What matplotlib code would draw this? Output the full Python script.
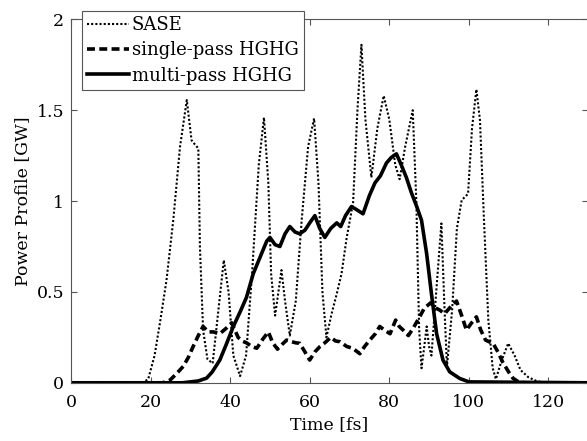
import matplotlib
matplotlib.use("Agg")
import matplotlib.pyplot as plt

# SASE (dotted)
saseT = [0, 18, 19.4, 21, 22.5, 24.0, 25.7, 27.4, 29.1, 30.3, 31.2, 32.0, 32.4, 33.2, 34.3, 35.6,
         36.8, 38.4, 39.6, 40.8, 42.5, 44, 45.5, 47.2, 48.5, 49.6, 50.3, 51.3, 52.9, 53.8, 55.0,
         56.5, 58, 59.6, 61.1, 62.2, 63.2, 64.2, 65.5, 66.8, 68, 69.3, 70.9, 72, 73.0, 74, 75.5,
         77, 78.6, 80, 81.5, 82.6, 84, 85.9, 86.8, 87.5, 88.1, 88.8, 89.4, 90.0, 90.6, 91.8, 93.1,
         93.9, 94.5, 95.8, 97, 98.2, 99.8, 100.8, 101.9, 102.8, 103.8, 104.9, 106.0, 106.8, 108.2,
         109.9, 111.5, 113, 115, 117, 119, 130]
saseP = [0, 0, 0.02, 0.15, 0.35, 0.565, 0.895, 1.30, 1.556, 1.335, 1.31, 1.29, 0.75, 0.29, 0.13, 0.107,
         0.35, 0.675, 0.5, 0.15, 0.037, 0.15, 0.6, 1.2, 1.46, 1.1, 0.6, 0.37, 0.62, 0.45, 0.26,
         0.45, 0.9, 1.3, 1.455, 1.1, 0.5, 0.25, 0.38, 0.49, 0.6, 0.80, 0.99, 1.5, 1.86, 1.45, 1.13,
         1.4, 1.58, 1.45, 1.2, 1.12, 1.3, 1.5, 1.0, 0.3, 0.08, 0.2, 0.31, 0.2, 0.15, 0.5, 0.877,
         0.4, 0.09, 0.4, 0.85, 1.005, 1.04, 1.4, 1.615, 1.445, 0.9, 0.345, 0.08, 0.02, 0.12,
         0.217, 0.15, 0.07, 0.03, 0.01, 0, 0]

# single-pass HGHG (dashed)
singleT = [0, 23, 24.9, 26.5, 28.2, 29.5, 30.7, 32.0, 33.2, 34.5, 35.8, 37.4, 39.0, 40.4, 41.2, 42.0,
           43.0, 44.1, 45.4, 46.7, 48.2, 49.6, 50.7, 51.9, 53.0, 54.2, 55.5, 56.5, 57.5, 58.8, 60.0,
           61.3, 62.6, 63.8, 65.3, 66.5, 67.6, 69.3, 70.8, 72.6, 73.8, 75.1, 76.5, 77.6, 78.8, 80.2,
           81.6, 82.5, 83.5, 84.8, 86.0, 87.3, 88.8, 90.4, 91.8, 92.7, 93.9, 95.5, 96.9, 98.2, 99.4,
           100.7, 101.9, 103, 104.2, 105.2, 106.1, 107.3, 108.6, 110, 111.1, 112.5, 114, 130]
singleP = [0, 0, 0.015, 0.05, 0.09, 0.14, 0.20, 0.26, 0.31, 0.28, 0.28, 0.27, 0.30, 0.33, 0.29, 0.25,
           0.23, 0.22, 0.20, 0.19, 0.24, 0.28, 0.22, 0.185, 0.21, 0.235, 0.226, 0.22, 0.217, 0.17, 0.125,
           0.17, 0.20, 0.22, 0.25, 0.23, 0.226, 0.20, 0.19, 0.16, 0.2, 0.235, 0.27, 0.31, 0.29, 0.27,
           0.345, 0.31, 0.29, 0.26, 0.30, 0.35, 0.41, 0.44, 0.41, 0.40, 0.38, 0.42, 0.45, 0.37, 0.29,
           0.33, 0.363, 0.29, 0.235, 0.225, 0.217, 0.17, 0.11, 0.06, 0.025, 0.005, 0, 0]

# multi-pass HGHG (solid)
multiT = [0, 28, 32, 34.1, 35.5, 37.4, 39, 40.8, 42.5, 44.1, 45.8, 47.5, 49.2, 50, 51.3, 52.5, 53.8,
          55, 56.3, 57.5, 58.8, 60, 61.3, 62.5, 63.8, 65.3, 66.8, 67.8, 69, 70.5, 72, 73.4, 75,
          76.4, 77.8, 79.3, 80.5, 81.8, 83, 84.3, 85.5, 86.9, 88.1, 89.4, 90.6, 91.9, 93.5, 95.2,
          97.7, 100, 130]
multiP = [0, 0, 0.01, 0.026, 0.06, 0.125, 0.21, 0.31, 0.39, 0.47, 0.60, 0.69, 0.78, 0.80, 0.76, 0.75, 0.82,
          0.86, 0.83, 0.82, 0.84, 0.88, 0.92, 0.85, 0.80, 0.85, 0.88, 0.86, 0.92, 0.97, 0.95, 0.93, 1.03,
          1.10, 1.14, 1.21, 1.24, 1.26, 1.20, 1.13, 1.05, 0.97, 0.895, 0.71, 0.49, 0.27, 0.125, 0.06,
          0.024, 0.005, 0]

XTICKS = [0, 20, 40, 60, 80, 100, 120]
YTICKS = [0, 0.5, 1, 1.5, 2]
YTICKLABELS = ["0", "0.5", "1", "1.5", "2"]


def main():
    plt.rcParams["font.family"] = ["DejaVu Serif"]
    fig = plt.figure(figsize=(5.87, 4.41), dpi=100)
    ax = fig.add_axes([0.121, 0.132, 0.881, 0.824])

    ax.plot(saseT, saseP, color="black", linestyle=(0, (1, 1)), linewidth=1.5, label="SASE")
    ax.plot(singleT, singleP, color="black", linestyle=(0, (2.2, 1.2)), linewidth=2.6, label="single-pass HGHG")
    ax.plot(multiT, multiP, color="black", linestyle="-", linewidth=2.6, label="multi-pass HGHG")

    ax.set_xlim(0, 130)
    ax.set_ylim(0, 2)
    ax.set_xticks(XTICKS)
    ax.set_yticks(YTICKS)
    ax.set_yticklabels(YTICKLABELS)
    ax.tick_params(direction="in", top=True, right=True, length=4, width=0.8,
                   color="#555555", labelsize=12.5)
    ax.tick_params(axis="x", pad=8)
    ax.tick_params(axis="y", pad=5)
    for spine in ax.spines.values():
        spine.set_color("#555555")
        spine.set_linewidth(0.8)

    ax.set_xlabel("Time [fs]", fontsize=12.5, labelpad=4)
    ax.set_ylabel("Power Profile [GW]", fontsize=12.5, labelpad=4)

    leg = ax.legend(loc="upper left", bbox_to_anchor=(0.021, 1.024), borderaxespad=0,
                    fontsize=13, fancybox=False, framealpha=1, edgecolor="#555555",
                    handlelength=2.3, handletextpad=0.15, borderpad=0.3, labelspacing=0.4)
    leg.get_frame().set_linewidth(0.8)

    plt.savefig("out.png", dpi=100)


if __name__ == "__main__":
    main()
